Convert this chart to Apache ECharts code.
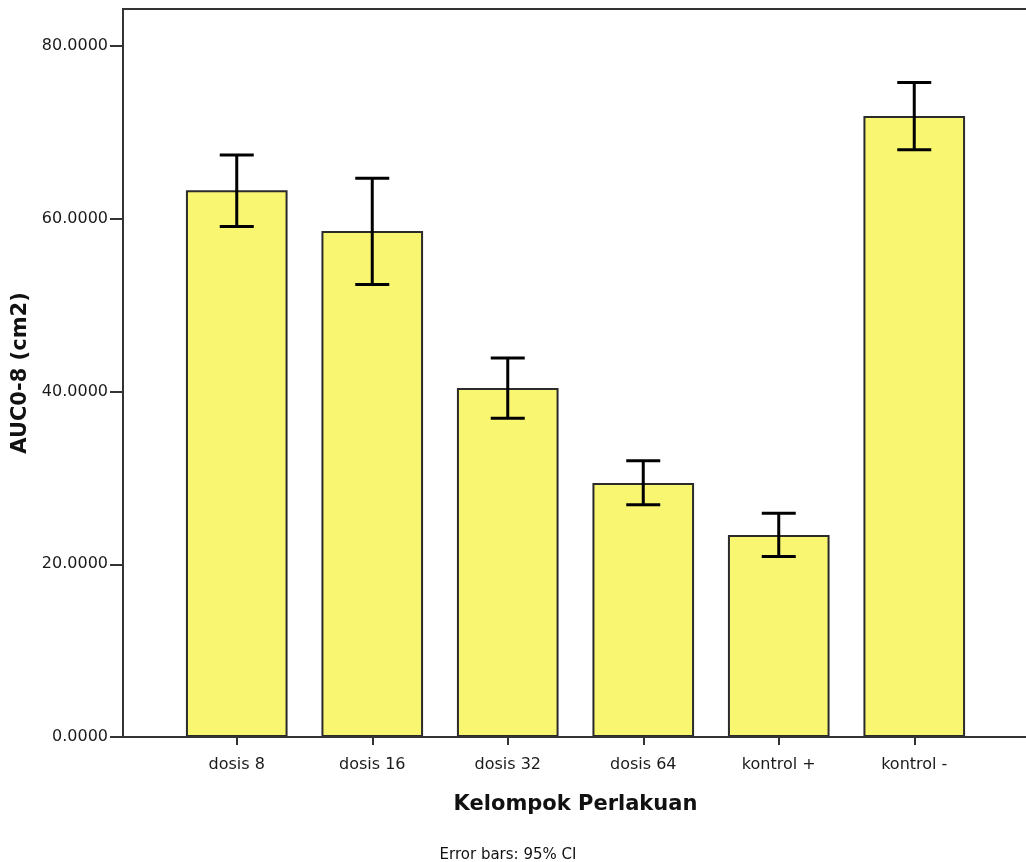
<!DOCTYPE html>
<html>
<head>
<meta charset="utf-8">
<script src="https://cdn.jsdelivr.net/npm/echarts@6/dist/echarts.min.js"></script>
<style>html,body{margin:0;padding:0;background:#fff}#c{width:1026px;height:862px}</style>
</head>
<body>
<div id="c"></div>
<script>
const categories = ['dosis 8', 'dosis 16', 'dosis 32', 'dosis 64', 'kontrol +', 'kontrol -'];
const means = [63.3, 58.6, 40.4, 29.4, 23.4, 71.9];
const ciLow = [59.1, 52.4, 36.9, 26.9, 20.9, 68.0];
const ciHigh = [67.4, 64.7, 43.9, 32.0, 25.9, 75.8];
const yTicks = [0, 20, 40, 60, 80];

const chart = echarts.init(document.getElementById('c'));
const font = '"DejaVu Sans", "Liberation Sans", Arial, sans-serif';
chart.setOption({
  animation: false,
  backgroundColor: '#fff',
  grid: { left: 169, right: 44, top: 9, bottom: 125 },
  graphic: [
    { type: 'polyline', z: 10, shape: { points: [[1030, 9], [123, 9], [123, 737], [1030, 737]] },
      style: { stroke: '#333', lineWidth: 2, fill: null } },
    { type: 'text', x: 508, y: 855, style: { text: 'Error bars: 95% CI', font: '15px ' + font, fill: '#111',
      textAlign: 'center', textVerticalAlign: 'middle' } }
  ],
  xAxis: {
    type: 'category', data: categories,
    axisLine: { show: false },
    axisTick: { show: true, alignWithLabel: true, length: 8, lineStyle: { color: '#333', width: 2 } },
    axisLabel: { margin: 20, fontSize: 16, color: '#1a1a1a', fontFamily: font },
    name: 'Kelompok Perlakuan', nameLocation: 'middle', nameGap: 57,
    nameTextStyle: { fontSize: 21, fontWeight: 'bold', color: '#111', fontFamily: font }
  },
  yAxis: {
    type: 'value', min: 0, max: 84.3, interval: 20, offset: 46,
    axisLine: { show: false },
    axisTick: { show: true, length: 13, lineStyle: { color: '#333', width: 2 },
      customValues: yTicks },
    axisLabel: { margin: 15, fontSize: 16, color: '#1a1a1a', fontFamily: font,
      customValues: yTicks, formatter: v => v.toFixed(4) },
    splitLine: { show: false },
    name: 'AUC0-8 (cm2)', nameLocation: 'middle', nameGap: 86,
    nameTextStyle: { fontSize: 21, fontWeight: 'bold', color: '#111', fontFamily: font }
  },
  series: [
    { type: 'bar', data: means, barWidth: '75%',
      itemStyle: { color: '#f9f672', borderColor: '#2b2b2b', borderWidth: 2 } },
    { type: 'custom', z: 5,
      data: categories.map((c, i) => [i, ciLow[i], ciHigh[i]]),
      renderItem: function (params, api) {
        const x = api.value(0);
        const lo = api.coord([x, api.value(1)]);
        const hi = api.coord([x, api.value(2)]);
        const hw = 17;
        const st = { stroke: '#000', lineWidth: 3 };
        return { type: 'group', children: [
          { type: 'line', shape: { x1: lo[0], y1: lo[1], x2: hi[0], y2: hi[1] }, style: st },
          { type: 'line', shape: { x1: lo[0] - hw, y1: lo[1], x2: lo[0] + hw, y2: lo[1] }, style: st },
          { type: 'line', shape: { x1: hi[0] - hw, y1: hi[1], x2: hi[0] + hw, y2: hi[1] }, style: st }
        ]};
      }
    }
  ]
});
</script>
</body>
</html>
